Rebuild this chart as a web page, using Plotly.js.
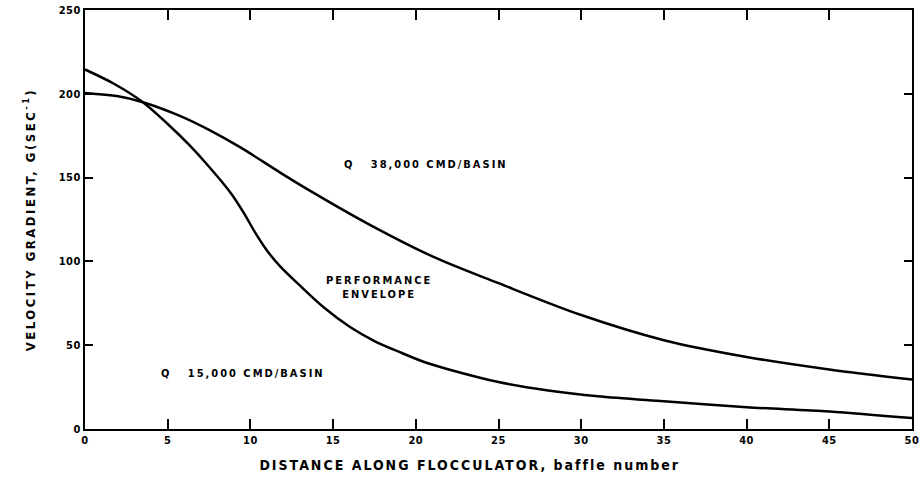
<!DOCTYPE html>
<html>
<head>
<meta charset="utf-8">
<script src="https://cdn.plot.ly/plotly-3.0.1.min.js"></script>
<style>
html,body{margin:0;padding:0;background:#fff;}
#chart{width:920px;height:489px;}
#chart .ytitle {letter-spacing: 2.5px;}
#chart .annotation-text {letter-spacing: 2px;}
#chart .xtick text, #chart .ytick text {letter-spacing: 0.5px;}
</style>
</head>
<body>
<div id="chart"></div>
<script>
// Q = 15,000 CMD/BASIN curve
const lowX = [0, 1.75, 3.5, 5, 6.3, 7.5, 8.8, 9.6, 10.3, 11, 11.8, 13, 14.5, 16, 17.5, 19, 20.5, 22, 25, 28, 31, 35, 40, 45, 50];
const lowG = [214.5, 206, 195, 182, 169.5, 156.5, 141, 129, 117, 106.5, 97, 85.5, 72, 61, 52.5, 46, 40, 35.5, 28, 23, 19.5, 16.5, 13, 10.5, 6.5];
// Q = 38,000 CMD/BASIN curve
const highX = [0, 2, 3.5, 5.7, 7.5, 9.4, 11.8, 13.8, 17, 21, 25, 30, 35, 40, 45, 50];
const highG = [200.5, 198.5, 195, 187, 178.5, 168, 153, 141, 123, 103, 87, 68, 53, 43, 35.5, 29.5];

const xTicks = [0, 5, 10, 15, 20, 25, 30, 35, 40, 45, 50];
const yTicks = [0, 50, 100, 150, 200, 250];

const FONT = '"DejaVu Sans Condensed", "Liberation Sans Narrow", "DejaVu Sans", sans-serif';

const lineStyle = {color: '#000', width: 2.5, shape: 'spline', smoothing: 0.9};
const traces = [
  {x: lowX, y: lowG, mode: 'lines', line: lineStyle, hoverinfo: 'skip'},
  {x: highX, y: highG, mode: 'lines', line: lineStyle, hoverinfo: 'skip'}
];

const annFont = {family: FONT, size: 11, color: '#000', weight: 'bold'};

const layout = {
  width: 920, height: 489,
  margin: {l: 85, r: 8, t: 10, b: 60},
  paper_bgcolor: '#fff', plot_bgcolor: '#fff',
  showlegend: false,
  font: {family: FONT, color: '#000'},
  xaxis: {
    range: [0, 50], tickvals: xTicks, ticktext: xTicks.map(String),
    ticks: 'inside', ticklen: 10, tickwidth: 2, tickcolor: '#000',
    showline: true, linecolor: '#000', linewidth: 2, mirror: 'ticks',
    showgrid: false, zeroline: false,
    tickfont: {family: FONT, size: 11, weight: 'bold'}
  },
  yaxis: {
    range: [0, 250], tickvals: yTicks, ticktext: yTicks.map(String),
    ticks: 'inside', ticklen: 8, tickwidth: 2, tickcolor: '#000',
    showline: true, linecolor: '#000', linewidth: 2, mirror: 'ticks',
    showgrid: false, zeroline: false,
    tickfont: {family: FONT, size: 11, weight: 'bold'},
    title: {text: '<b>VELOCITY GRADIENT, G(SEC<sup>-1</sup>)</b>', font: {family: FONT, size: 13}, standoff: 22}
  },
  annotations: [
    {x: 0.466, y: -0.087, xref: 'paper', yref: 'paper', yanchor: 'middle', text: '<b>DISTANCE ALONG FLOCCULATOR, baffle number</b>', showarrow: false, font: {family: FONT, size: 14, color: '#000'}},
    {x: 20.6, y: 157.6, xref: 'x', yref: 'y', text: '<b>Q   38,000 CMD/BASIN</b>', showarrow: false, font: annFont},
    {x: 9.55, y: 33.2, xref: 'x', yref: 'y', text: '<b>Q   15,000 CMD/BASIN</b>', showarrow: false, font: annFont},
    {x: 17.8, y: 84.6, xref: 'x', yref: 'y', text: '<b>PERFORMANCE</b><br><b>ENVELOPE</b>', showarrow: false, font: annFont, align: 'center'}
  ]
};

Plotly.newPlot('chart', traces, layout, {displayModeBar: false, staticPlot: true});
</script>
</body>
</html>
